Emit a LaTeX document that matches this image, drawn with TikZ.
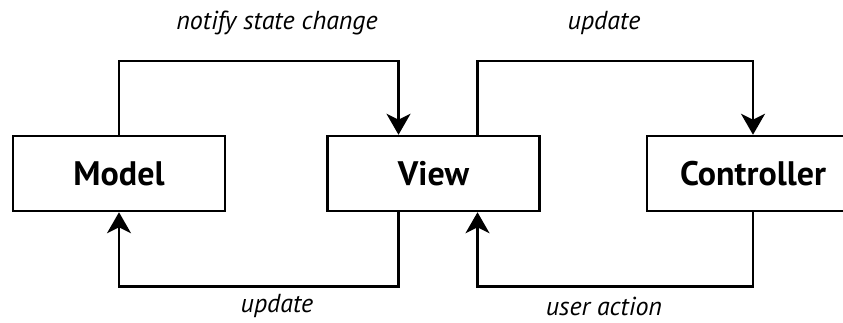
\documentclass[tikz,border=0pt]{standalone}
\usepackage{fontspec}
\setmainfont{PT Sans}
\usepackage{tikz}
\usetikzlibrary{positioning, arrows.meta}
\tikzstyle{block} = [rectangle, minimum width=212pt, minimum height=75pt,
    text centered, draw=black, line width=2.5pt, font=\fontsize{34}{40}\selectfont\bfseries]
\tikzstyle{tag} = [font=\fontsize{26}{30}\selectfont\itshape]
\tikzstyle{arrow} = [line width=2.5pt, -{Stealth[length=21pt, width=24pt, inset=6pt]}]

\begin{document}
\begin{tikzpicture}[x=1pt, y=1pt]
                \useasboundingbox (0,0) rectangle (843,-322);
                \node (model) [block] at (119,-173.5) {Model};
                \node (view) [block, right=100pt of model] {View};
                \node (controller) [block, right=105pt of view] {Controller};
                \node (notify) [tag] at (277,-23) {notify state change};
                \node (update1) [tag] at (604,-23) {update};
                \node (update2) [tag] at (277,-306) {update};
                \node (action) [tag] at (604,-306) {user action};
                \draw [arrow] (model.north) -- ++(0,74) -| ([xshift=-35pt]view.north);
                \draw [arrow] ([xshift=-35pt]view.south) -- ++(0,-74) -| (model.south);
                \draw [arrow] ([xshift=44pt]view.north) -- ++(0,74) -| (controller.north);
                \draw [arrow] (controller.south) -- ++(0,-74) -| ([xshift=44pt]view.south);
            \end{tikzpicture}
\end{document}
